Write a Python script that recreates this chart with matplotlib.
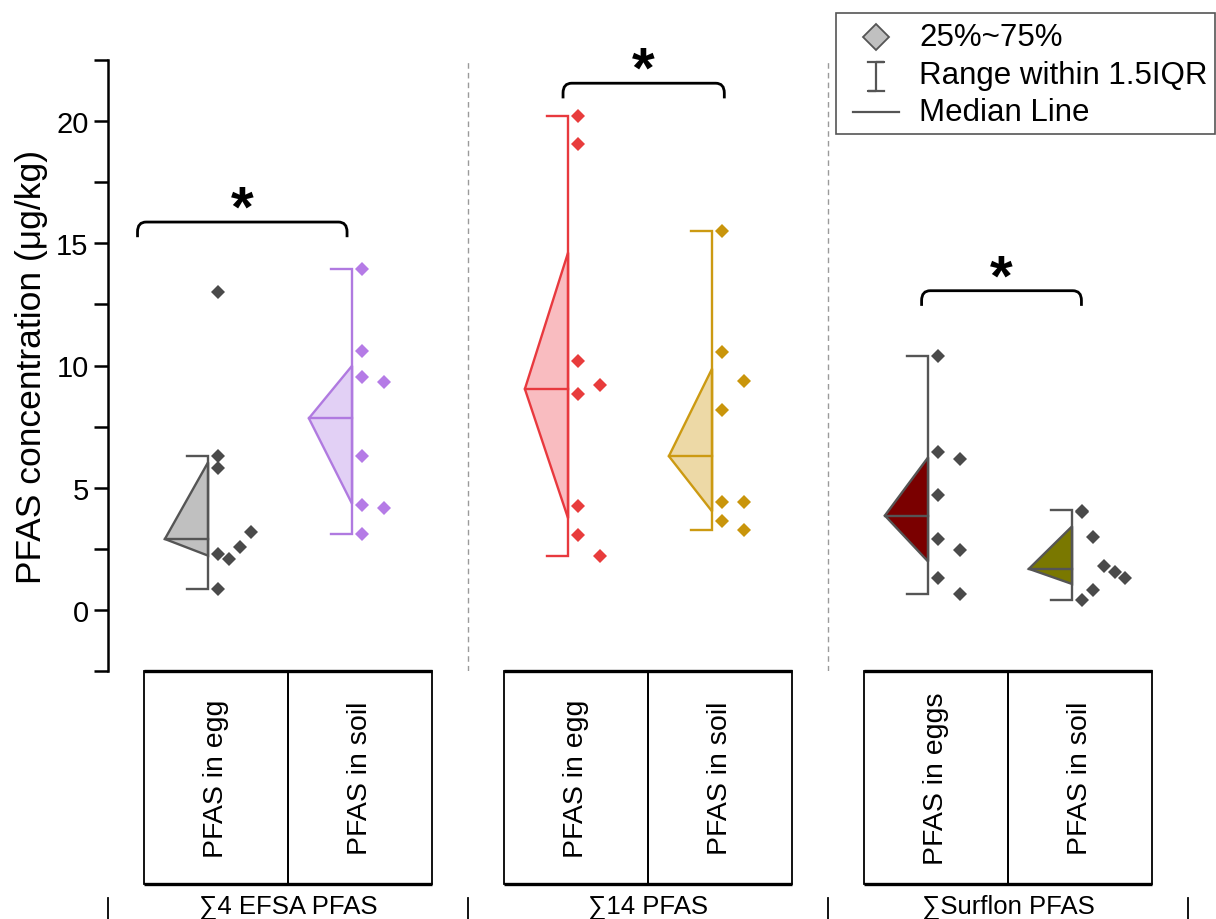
import numpy as np
import matplotlib
matplotlib.use('Agg')
import matplotlib.pyplot as plt
from matplotlib.patches import Polygon, Rectangle, PathPatch
from matplotlib.path import Path
from matplotlib.lines import Line2D
import matplotlib.transforms as mtransforms

plt.rcParams['font.family'] = ['Liberation Sans', 'DejaVu Sans']

# ---------------- data ----------------
group_names = ['∑4 EFSA PFAS', '∑14 PFAS', '∑Surflon PFAS']
box_labels = ['PFAS in egg', 'PFAS in soil', 'PFAS in egg', 'PFAS in soil',
              'PFAS in eggs', 'PFAS in soil']

egg_efsa = [13.0, 6.29, 5.79, 2.29, 2.09, 2.59, 3.20, 0.86]
soil_efsa = [13.95, 10.58, 9.52, 9.31, 6.29, 4.29, 4.16, 3.11]
egg_14 = [20.2, 19.07, 10.2, 9.22, 8.84, 4.24, 3.08, 2.2]
soil_14 = [15.49, 10.57, 9.36, 8.19, 4.42, 4.42, 3.63, 3.28]
egg_surflon = [10.37, 6.45, 6.18, 4.70, 2.90, 2.47, 1.31, 0.65]
soil_surflon = [4.06, 4.0, 3.0, 1.79, 1.57, 1.30, 0.83, 0.42]

series = [egg_efsa, soil_efsa, egg_14, soil_14, egg_surflon, soil_surflon]

# box statistics
q1 = [2.22, 4.34, 3.75, 4.03, 1.98, 1.06]
median = [2.90, 7.84, 9.04, 6.29, 3.86, 1.68]
q3 = [6.04, 9.99, 14.62, 9.87, 6.24, 3.42]
whisker_low = [0.86, 3.11, 2.2, 3.28, 0.65, 0.41]
whisker_high = [6.29, 13.95, 20.2, 15.49, 10.37, 4.09]

# jitter slot of each point (layout helper)
jitter_slots = [[0, 0, 0, 0, 1, 2, 3, 0],
                [0, 0, 0, 2, 0, 0, 2, 0],
                [0, 0, 0, 2, 0, 0, 0, 2],
                [0, 0, 2, 0, 0, 2, 0, 2],
                [0, 0, 2, 0, 0, 2, 0, 2],
                [0, 0, 1, 2, 3, 4, 1, 0]]

# significance brackets (x-span, height)
sig_spans = [(0.455, 1.91), (3.41, 4.53), (5.9, 7.01)]
sig_heights = [15.87, 21.55, 13.06]

# ---------------- style ----------------
positions = [1, 2, 3.5, 4.5, 6, 7]
fills = ['#c0c0c0', '#e2d0f5', '#f9bcc0', '#edd9a6', '#7a0000', '#7a7800']
edges = ['#555555', '#b07ae0', '#e8393e', '#cc9a12', '#555555', '#555555']
dots = ['#4a4a4a', '#b57be6', '#e83c3c', '#c9950b', '#4a4a4a', '#4a4a4a']

fig = plt.figure(figsize=(12.16, 9.2), dpi=100)
ax = fig.add_axes([108 / 1216, 1 - 672 / 920, 1080 / 1216, 611 / 920])
ax.set_xlim(0.25, 7.75)
ax.set_ylim(-2.5, 22.5)

vl_off = -0.055
apex_len = 0.30
cap_len = 0.145
dot_off = 0.007
slot_step = 0.075
lw = 1.7

for i, p in enumerate(positions):
    xv = p + vl_off
    poly = Polygon([(xv, q3[i]), (xv - apex_len, median[i]), (xv, q1[i])],
                   closed=True, facecolor=fills[i], edgecolor=edges[i],
                   linewidth=lw, zorder=2, joinstyle='miter')
    ax.add_patch(poly)
    ax.plot([xv - apex_len, xv], [median[i], median[i]], color=edges[i], lw=lw, zorder=3)
    ax.plot([xv - cap_len, xv, xv, xv - cap_len],
            [whisker_high[i], whisker_high[i], whisker_low[i], whisker_low[i]],
            color=edges[i], lw=lw, zorder=3, solid_joinstyle='miter')
    xs = [xv + 0.063 + dot_off + s * slot_step for s in jitter_slots[i]]
    ax.plot(xs, series[i], linestyle='none', marker='D', ms=7,
            color=dots[i], markeredgewidth=0, zorder=4)

# separators
for xs in [2.75, 5.25]:
    ax.axvline(xs, color='#9a9a9a', lw=1.0, ls=(0, (4, 3)), zorder=1)

# significance brackets
rx, ry, drop = 0.06, 0.4, 0.62
for (x0, x1), y in zip(sig_spans, sig_heights):
    verts = [(x0, y - drop), (x0, y - ry), (x0, y), (x0 + rx, y),
             (x1 - rx, y), (x1, y), (x1, y - ry), (x1, y - drop)]
    codes = [Path.MOVETO, Path.LINETO, Path.CURVE3, Path.CURVE3,
             Path.LINETO, Path.CURVE3, Path.CURVE3, Path.LINETO]
    ax.add_patch(PathPatch(Path(verts, codes), facecolor='none', edgecolor='black',
                           lw=2.0, clip_on=False, zorder=5))
    ax.text((x0 + x1) / 2, y - 0.15, '*', fontsize=42, fontweight='bold',
            ha='center', va='baseline', clip_on=False)

# axes styling
for s in ['top', 'right', 'bottom']:
    ax.spines[s].set_visible(False)
ax.spines['left'].set_linewidth(1.8)
ax.set_xticks([])
ax.set_yticks([0, 5, 10, 15, 20])
ax.set_yticks([-2.5, 2.5, 7.5, 12.5, 17.5, 22.5], minor=True)
ax.tick_params(axis='y', which='both', direction='out', length=10, width=1.8,
               labelsize=21, pad=4)
ax.set_ylabel('PFAS concentration (μg/kg)', fontsize=25.5, labelpad=6)

# category table below
tr = mtransforms.blended_transform_factory(ax.transData, ax.transAxes)
tb_top, tb_bot = 0.0, -0.349
for i, p in enumerate(positions):
    ax.add_patch(Rectangle((p - 0.5, tb_bot), 1.0, tb_top - tb_bot, transform=tr,
                           facecolor='none', edgecolor='black', lw=1.3, clip_on=False))
    ax.text(p, (tb_top + tb_bot) / 2, box_labels[i], transform=tr, rotation=90,
            ha='center', va='center', fontsize=20.5, clip_on=False)
for g in range(3):
    x0 = positions[2 * g] - 0.5
    x1 = positions[2 * g + 1] + 0.5
    for yy in [tb_top, tb_bot]:
        ax.plot([x0, x1], [yy, yy], transform=tr, color='black', lw=2.4, clip_on=False,
                solid_capstyle='butt')
    ax.text((x0 + x1) / 2, -0.384, group_names[g], transform=tr, ha='center', va='center',
            fontsize=18.5, clip_on=False)
for xb in [0.25, 2.75, 5.25, 7.75]:
    ax.plot([xb, xb], [-0.372, -0.42], transform=tr, color='black', lw=1.3, clip_on=False)

# legend drawn in figure pixel space
def fx(px):
    return px / 1216


def fy(py):
    return 1 - py / 920


fig.add_artist(Rectangle((fx(836), fy(135)), fx(1215) - fx(836), fy(14) - fy(135),
                         transform=fig.transFigure, facecolor='white',
                         edgecolor='#555555', lw=1.2))
fig.add_artist(Line2D([fx(876)], [fy(38)], marker='D', ms=13.5, markerfacecolor='#c0c0c0',
                      markeredgecolor='#555555', markeredgewidth=1.3, linestyle='none',
                      transform=fig.transFigure))
fig.add_artist(Line2D([fx(868), fx(884), fx(876), fx(876), fx(868), fx(884)],
                      [fy(63), fy(63), fy(63), fy(92), fy(92), fy(92)],
                      color='#555555', lw=1.6, transform=fig.transFigure))
fig.add_artist(Line2D([fx(853), fx(899)], [fy(113), fy(113)], color='#555555', lw=1.6,
                      transform=fig.transFigure))
for txt, py in [('25%~75%', 38), ('Range within 1.5IQR', 76), ('Median Line', 113)]:
    fig.text(fx(919), fy(py), txt, fontsize=22.5, ha='left', va='center')

fig.savefig('out.png', dpi=100)
